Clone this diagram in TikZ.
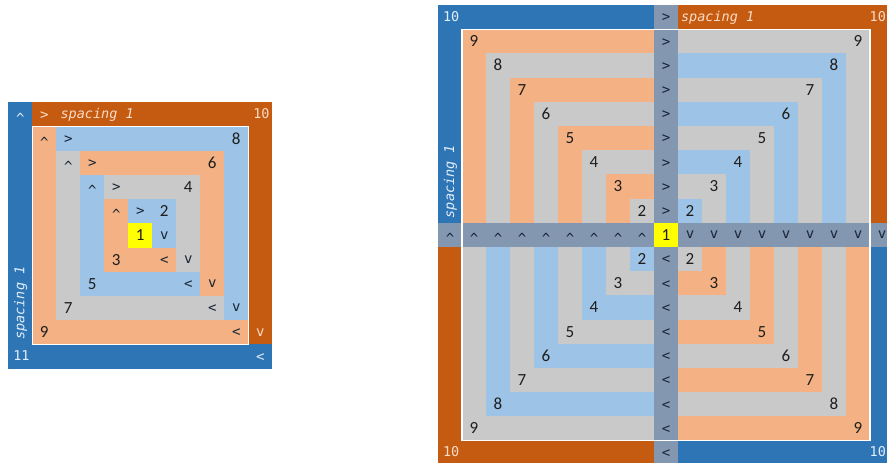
\documentclass[tikz,border=0pt]{standalone}
\usepackage{fontspec}
\setmainfont{Carlito}
\setmonofont{DejaVu Sans Mono}
\definecolor{dblue}{HTML}{2E75B6}
\definecolor{dorange}{HTML}{C55A11}
\definecolor{lorange}{HTML}{F4B183}
\definecolor{lblue}{HTML}{9DC3E6}
\definecolor{lgrey}{HTML}{C9C9C9}
\definecolor{slate}{HTML}{8497B0}
\definecolor{ylw}{HTML}{FFFF00}
\definecolor{numc}{HTML}{1E1E1E}
\definecolor{arrc}{HTML}{172434}
\definecolor{onblue}{HTML}{E2EEF9}
\definecolor{onorange}{HTML}{FBDCC6}
\tikzset{
  num/.style={font=\fontsize{17}{17}\selectfont, text=numc, inner sep=0pt, anchor=base, yshift=-5.4pt},
  arrbase/.style={font=\ttfamily\fontsize{14}{14}\selectfont, text=arrc, inner sep=0pt, anchor=base},
  arrR/.style={arrbase, yshift=-4.7pt},
  arrU/.style={arrbase, yshift=-8.6pt},
  arrD/.style={arrbase, yshift=-3.8pt},
  bandtxt/.style={font=\ttfamily\fontsize{13.5}{13.5}\selectfont, inner sep=0pt, anchor=base west},
  bandit/.style={font=\ttfamily\itshape\fontsize{13.5}{13.5}\selectfont, inner sep=0pt, anchor=base west},
  frame/.style={draw=white, line width=1.4pt},
}
% #1 = extra options, #2 = name, #3 = col, #4 = row
\newcommand\cellR[4][]{\node[arrR,#1] (#2) at (#3+0.5,#4+0.5) {>};}
\newcommand\cellL[4][]{\node[arrR,#1] (#2) at (#3+0.5,#4+0.5) {<};}
\newcommand\cellU[4][]{\node[arrU,#1] (#2) at (#3+0.5,#4+0.5) {\textasciicircum};}
\newcommand\cellD[4][]{\node[arrD,#1] (#2) at (#3+0.5,#4+0.5) {v};}
\newcommand\cellN[4]{\node[num] (#1) at (#2+0.5,#3+0.5) {#4};}
\begin{document}
\begin{tikzpicture}[x=1pt,y=-1pt]
\useasboundingbox[fill=white] (0,0) rectangle (887,463);
\begin{scope}
\clip (0,0) rectangle (887,463);

% ---------------- left diagram ----------------
\begin{scope}[shift={(8.3pt,-102.3pt)},x=24pt,y=-24.2pt]
\fill[dblue] (0,0) rectangle (11,11);
\fill[dorange] (1,0) rectangle (11,10);
\fill[lorange] (1,1) rectangle (10,10);
\fill[lblue] (2,1) rectangle (10,9);
\fill[lgrey] (2,2) rectangle (9,9);
\fill[lorange] (3,2) rectangle (9,8);
\fill[lblue] (3,3) rectangle (8,8);
\fill[lgrey] (4,3) rectangle (8,7);
\fill[lorange] (4,4) rectangle (7,7);
\fill[lblue] (5,4) rectangle (7,6);
\fill[ylw] (5,5) rectangle (6,6);
\draw[frame] (1,1) rectangle (10,10);
% numbers
\cellN{ln1}{5}{5}{1}
\cellN{ln2}{6}{4}{2}
\cellN{ln3}{4}{6}{3}
\cellN{ln4}{7}{3}{4}
\cellN{ln5}{3}{7}{5}
\cellN{ln6}{8}{2}{6}
\cellN{ln7}{2}{8}{7}
\cellN{ln8}{9}{1}{8}
\cellN{ln9}{1}{9}{9}
% arrows
\cellR{la2}{5}{4} \cellD{lb2}{6}{5}
\cellU{la3}{4}{4} \cellL{lb3}{6}{6}
\cellR{la4}{4}{3} \cellD{lb4}{7}{6}
\cellU{la5}{3}{3} \cellL{lb5}{7}{7}
\cellR{la6}{3}{2} \cellD{lb6}{8}{7}
\cellU{la7}{2}{2} \cellL{lb7}{8}{8}
\cellR{la8}{2}{1} \cellD{lb8}{9}{8}
\cellU{la9}{1}{1} \cellL{lb9}{9}{9}
\cellR[text=onorange]{la10}{1}{0} \cellD[text=onorange]{lb10}{10}{9}
\cellU[text=onblue]{la11}{0}{0} \cellL[text=onblue]{lb11}{10}{10}
% band texts
\node[bandit, text=onorange] (lsp10) at (2.17,0.665) {spacing 1};
\node[bandtxt, text=onorange] (lt10) at (10.2,0.665) {10};
\node[bandtxt, text=onblue] (lt11) at (0.2,10.665) {11};
\node[bandit, text=onblue, rotate=90] (lsp11) at (0.667,9.82) {spacing 1};
\end{scope}

% ---------------- right diagram ----------------
\begin{scope}[shift={(438pt,-5pt)},x=24pt,y=-24.2pt]
\fill[dblue] (0,0) rectangle (9,1);
\fill[dblue] (0,0) rectangle (1,9);
\fill[dorange] (10,0) rectangle (19,1);
\fill[dorange] (18,0) rectangle (19,9);
\fill[dorange] (0,10) rectangle (1,19);
\fill[dorange] (0,18) rectangle (9,19);
\fill[dblue] (18,10) rectangle (19,19);
\fill[dblue] (10,18) rectangle (19,19);
\fill[slate] (9,0) rectangle (10,19);
\fill[slate] (0,9) rectangle (19,10);
\fill[ylw] (9,9) rectangle (10,10);
\foreach \k/\ca/\cb in {9/lorange/lgrey, 8/lgrey/lblue, 7/lorange/lgrey, 6/lgrey/lblue,
                        5/lorange/lgrey, 4/lgrey/lblue, 3/lorange/lgrey, 2/lgrey/lblue}{
  \fill[\ca] (10-\k,10-\k) rectangle (9,9);
  \fill[\cb] (10,10-\k) rectangle (\k+9,9);
  \fill[\cb] (10-\k,10) rectangle (9,\k+9);
  \fill[\ca] (10,10) rectangle (\k+9,\k+9);
}
\draw[frame] (1,1) rectangle (18,18);
\foreach \k in {2,...,9}{
  \cellN{rtl\k}{10-\k}{10-\k}{\k}
  \cellN{rtr\k}{\k+8}{10-\k}{\k}
  \cellN{rbl\k}{10-\k}{\k+8}{\k}
  \cellN{rbr\k}{\k+8}{\k+8}{\k}
}
\cellN{rc1}{9}{9}{1}
\foreach \i in {0,...,8}{
  \cellR{rr\i}{9}{\i}
  \cellU{ru\i}{\i}{9}
}
\foreach \i in {10,...,18}{
  \cellL{rl\i}{9}{\i}
  \cellD{rd\i}{\i}{9}
}
\node[bandtxt, text=onblue] (rt10a) at (0.2,0.665) {10};
\node[bandit, text=onorange] (rsp1) at (10.12,0.665) {spacing 1};
\node[bandtxt, text=onorange] (rt10b) at (17.98,0.665) {10};
\node[bandtxt, text=onorange] (rt10c) at (0.2,18.665) {10};
\node[bandtxt, text=onblue] (rt10d) at (17.98,18.665) {10};
\node[bandit, text=onblue, rotate=90] (rsp2) at (0.667,8.82) {spacing 1};
\end{scope}
\end{scope}
\end{tikzpicture}
\end{document}
